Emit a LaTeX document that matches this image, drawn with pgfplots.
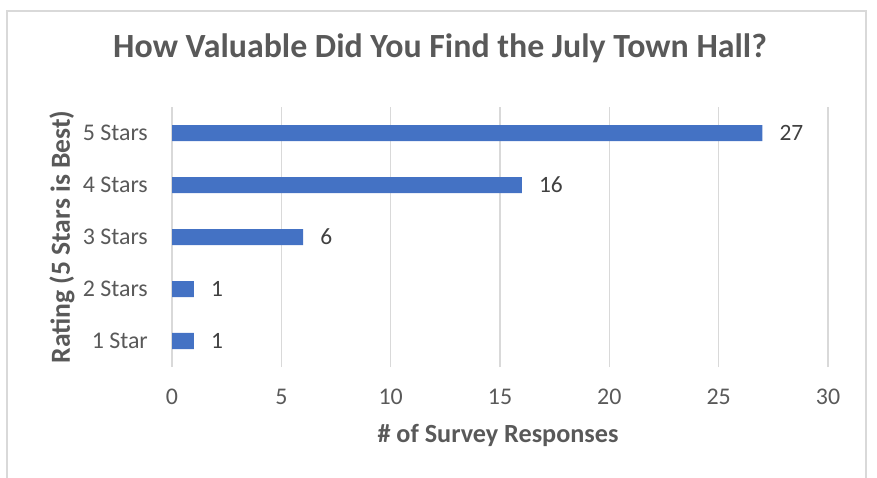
\documentclass[border=0pt]{standalone}
\usepackage{pgfplots}
\pgfplotsset{compat=1.18}
\usepackage{fontspec}
\setmainfont{Carlito}
\definecolor{barblue}{HTML}{4472C4}
\definecolor{txtgray}{HTML}{595959}
\definecolor{lblgray}{HTML}{404040}
\definecolor{gridgray}{HTML}{D9D9D9}
\begin{document}
\begin{tikzpicture}
\path[use as bounding box] (0bp,0bp) rectangle (877bp,478bp);
\draw[gridgray, line width=1.5bp] (7bp,0bp) -- (7bp,467bp) -- (866bp,467bp) -- (866bp,0bp);
\begin{axis}[
  at={(172bp,111bp)}, anchor=south west,
  scale only axis, width=656bp, height=260bp,
  xbar, bar width=16bp,
  xmin=0, xmax=30, ymin=0.5, ymax=5.5,
  xtick={0,5,...,30},
  ytick={1,2,3,4,5},
  yticklabels={1 Star,2 Stars,3 Stars,4 Stars,5 Stars},
  axis line style={draw=none},
  major tick length=0pt,
  xmajorgrids, ymajorgrids=false,
  major grid style={gridgray, line width=1.2bp},
  /pgf/number format/assume math mode=true,
  ticklabel style={font=\fontsize{24}{24}\selectfont, text=txtgray},
  xticklabel style={anchor=north, inner sep=0pt, yshift=-22bp},
  yticklabel style={anchor=east, inner sep=0pt, xshift=-24bp},
  title={How Valuable Did You Find the July Town Hall?},
  title style={at={(axis description cs:0.4085,1.169)}, anchor=base, font=\fontsize{34}{34}\selectfont\bfseries, text=txtgray},
  xlabel={\# of Survey Responses},
  xlabel style={at={(axis description cs:0.497,-0.2923)}, anchor=base, font=\fontsize{26.3}{26.3}\selectfont\bfseries, text=txtgray},
  ylabel={Rating (5 Stars is Best)},
  ylabel style={at={(axis description cs:-0.1677,0.5)}, anchor=center, rotate=0, font=\fontsize{27.7}{27.7}\selectfont\bfseries, text=txtgray},
  nodes near coords,
  nodes near coords style={anchor=west, inner sep=0pt, xshift=17bp, font=\fontsize{23.5}{23.5}\selectfont, text=lblgray},
]
\addplot[fill=barblue, draw=none] coordinates {(1,1) (1,2) (6,3) (16,4) (27,5)};
\end{axis}
\end{tikzpicture}
\end{document}
